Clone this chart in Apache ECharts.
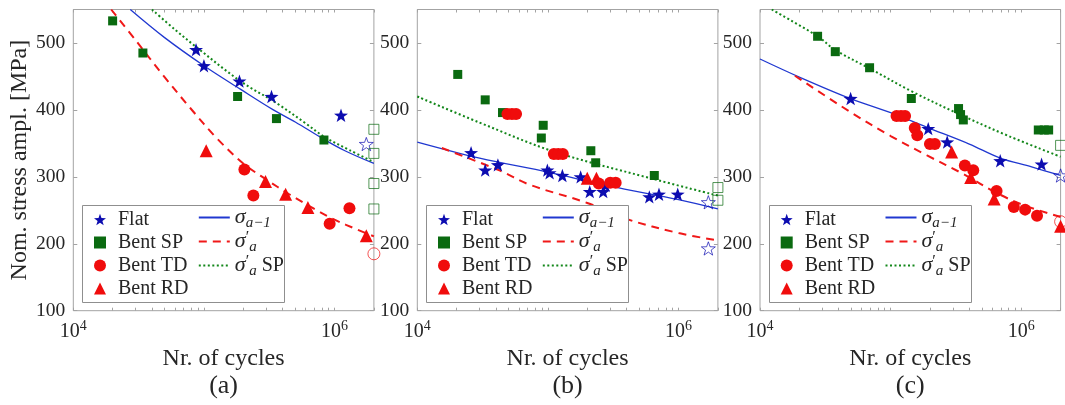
<!DOCTYPE html>
<html>
<head>
<meta charset="utf-8">
<script src="https://cdn.jsdelivr.net/npm/echarts@6/dist/echarts.min.js"></script>
<style>
  html, body { margin: 0; padding: 0; background: #ffffff; }
  #chart { width: 1065px; height: 405px; }
</style>
</head>
<body>
<div id="chart"></div>
<script>
// ---------- axes / tick labels ----------
const yTickValues = [100, 200, 300, 400, 500];
const yRange = [100, 550];
const xRange = [1e4, 2e6];
const xLabelValues = [1e4, 1e6];
const xTickValues = [1e4, 2e4, 3e4, 4e4, 5e4, 6e4, 7e4, 8e4, 9e4,
                     1e5, 2e5, 3e5, 4e5, 5e5, 6e5, 7e5, 8e5, 9e5, 1e6, 2e6];
const panelLabels = ['(a)', '(b)', '(c)'];
const xTitle = 'Nr. of cycles';
const yTitle = 'Nom. stress ampl. [MPa]';
const markerNames = ['Flat', 'Bent SP', 'Bent TD', 'Bent RD'];
const curveNames = ['sigma_a-1', 'sigma_a_prime', 'sigma_a_prime_SP'];

// ---------- panel (a) ----------
const flatA    = [[8.7e4, 490], [1.0e5, 466], [1.87e5, 443], [3.29e5, 420], [1.12e6, 392]];
const flatRunA = [[1.75e6, 349]];
const spA      = [[2.0e4, 533], [3.41e4, 485], [1.81e5, 420], [3.59e5, 387], [8.29e5, 355]];
const spRunA   = [[2e6, 371], [2e6, 335], [2e6, 290], [2e6, 252]];
const tdA      = [[2.04e5, 311], [2.39e5, 272], [9.17e5, 230], [1.30e6, 253]];
const tdRunA   = [[2e6, 185]];
const rdA      = [[1.04e5, 339], [2.96e5, 293], [4.22e5, 274], [6.25e5, 254], [1.75e6, 212]];
const sigA_a   = [[2.73e4, 550], [5e4, 508], [1e5, 466], [1.9e5, 431], [3.4e5, 400], [5e5, 382],
                  [8.3e5, 356], [1.2e6, 339], [2e6, 320]];
const sigP_a   = [[1.95e4, 550], [3e4, 504], [5e4, 449], [8e4, 401], [1.25e5, 358], [2e5, 320],
                  [3e5, 296], [4.5e5, 274], [7e5, 252], [1e6, 236], [1.5e6, 221], [2e6, 211]];
const sigSP_a  = [[4e4, 550], [6e4, 520], [8.6e4, 495], [1.9e5, 443], [3.6e5, 410], [6e5, 380],
                  [8.3e5, 360], [1.3e6, 340], [2e6, 322]];

// ---------- panel (b) ----------
const flatB    = [[2.58e4, 336], [3.31e4, 310], [4.14e4, 318], [9.9e4, 310], [1.03e5, 306], [1.29e5, 302],
                  [1.78e5, 300], [2.09e5, 278], [2.65e5, 278], [2.76e5, 287], [5.97e5, 270], [7.08e5, 274],
                  [9.85e5, 274]];
const flatRunB = [[1.69e6, 262], [1.69e6, 193]];
const spB      = [[2.04e4, 453], [3.31e4, 415], [4.49e4, 396], [9.2e4, 377], [8.9e4, 358], [2.13e5, 339],
                  [2.32e5, 321], [6.52e5, 302]];
const spRunB   = [[2e6, 284], [2e6, 265]];
const tdB      = [[4.9e4, 394], [5.3e4, 394], [5.7e4, 394], [1.11e5, 334], [1.2e5, 334], [1.3e5, 334],
                  [2.45e5, 290], [3.0e5, 291], [3.3e5, 291]];
const tdRunB   = [];
const rdB      = [[2.0e5, 298], [2.35e5, 298]];
const sigA_b   = [[1e4, 352], [3e4, 328], [1e5, 307], [3e5, 286], [1e6, 266], [2e6, 252]];
const sigP_b   = [[1.54e4, 343], [4.2e4, 310], [7.3e4, 288], [2e5, 261], [4e5, 237], [1e6, 216], [2e6, 205]];
const sigSP_b  = [[1e4, 420], [3e4, 381], [1.1e5, 338], [5.8e5, 299], [2e6, 272]];

// ---------- panel (c) ----------
const flatC    = [[4.94e4, 417], [1.94e5, 372], [2.71e5, 352], [6.9e5, 324], [1.43e6, 319]];
const flatRunC = [[2e6, 302]];
const spC      = [[2.76e4, 510], [3.77e4, 487], [6.9e4, 463], [1.44e5, 417], [3.31e5, 402], [3.43e5, 393],
                  [3.6e5, 385], [1.35e6, 370], [1.5e6, 370], [1.62e6, 370]];
const spRunC   = [[2e6, 347]];
const tdC      = [[1.11e5, 391], [1.2e5, 391], [1.29e5, 391], [1.53e5, 373], [1.6e5, 362], [2.0e5, 349],
                  [2.18e5, 349], [3.7e5, 317], [4.29e5, 310], [6.47e5, 279], [8.77e5, 255], [1.07e6, 251],
                  [1.32e6, 242]];
const tdRunC   = [[2e6, 233]];
const rdC      = [[2.93e5, 337], [4.1e5, 299], [6.2e5, 267], [2e6, 226]];
const sigA_c   = [[1e4, 476], [2e4, 449], [4.9e4, 417], [1e5, 396], [1.9e5, 374], [4e5, 349], [6.9e5, 328],
                  [1.2e6, 315], [2e6, 302]];
const sigP_c   = [[1.85e4, 451], [4.9e4, 397], [1e5, 361], [1.9e5, 332], [3.7e5, 303], [6.2e5, 278],
                  [1e6, 259], [2e6, 240]];
const sigSP_c  = [[1.23e4, 550], [2.76e4, 510], [3.8e4, 489], [6.9e4, 462], [1.44e5, 428], [3.4e5, 393],
                  [8e5, 361], [2e6, 330]];

const panels = [
  { flat: flatA, flatRun: flatRunA, sp: spA, spRun: spRunA, td: tdA, tdRun: tdRunA, rd: rdA,
    sigA: sigA_a, sigP: sigP_a, sigSP: sigSP_a },
  { flat: flatB, flatRun: flatRunB, sp: spB, spRun: spRunB, td: tdB, tdRun: tdRunB, rd: rdB,
    sigA: sigA_b, sigP: sigP_b, sigSP: sigSP_b },
  { flat: flatC, flatRun: flatRunC, sp: spC, spRun: spRunC, td: tdC, tdRun: tdRunC, rd: rdC,
    sigA: sigA_c, sigP: sigP_c, sigSP: sigSP_c }
];

// ---------- styling / layout ----------
const FONT = "'Liberation Serif', 'DejaVu Serif', serif";
const TXT = '#262626';
const FRAME = '#a3a3a3';
const BLUE = '#0c0cb0', GREEN = '#0a6a10', RED = '#f00c0c';
const BLUE_LINE = '#2038d0', GREEN_LINE = '#13871a', RED_LINE = '#f01818';
const STAR = 'path://M50,0 L61.76,33.82 L97.55,34.55 L69.02,56.18 L79.39,90.45 L50,70 L20.61,90.45 L30.98,56.18 L2.45,34.55 L38.24,33.82 Z';

const gridLefts = [73.3, 417.3, 760];
const gridTop = 9.5, gridH = 301.2, gridW = 300.6;

const curveLabels = {
  'sigma_a-1': '{s|σ}{sub|a−1}',
  'sigma_a_prime': '{s|σ}{sup|′}{sub|a}',
  'sigma_a_prime_SP': '{s|σ}{sup|′}{sub|a}{t| SP}'
};

const richText = {
  t:   { fontFamily: FONT, fontSize: 20, color: TXT, lineHeight: 23 },
  s:   { fontFamily: FONT, fontSize: 22, fontStyle: 'italic', color: TXT, lineHeight: 23 },
  sub: { fontFamily: FONT, fontSize: 15, fontStyle: 'italic', color: TXT, lineHeight: 23, padding: [11, 0, 0, 0] },
  sup: { fontFamily: FONT, fontSize: 16, color: TXT, lineHeight: 23, padding: [0, 0, 8, 0] }
};

const grid = [], xAxis = [], yAxis = [], series = [], legend = [], graphic = [];

gridLefts.forEach((gl, i) => {
  grid.push({ left: gl, top: gridTop, width: gridW, height: gridH, show: true,
              borderColor: FRAME, borderWidth: 1, backgroundColor: 'transparent', containLabel: false });

  const xBase = { type: 'log', logBase: 10, gridIndex: i, min: xRange[0], max: xRange[1],
                  axisLine: { show: false }, splitLine: { show: false }, minorTick: { show: false },
                  axisTick: { inside: true, length: 3, customValues: xTickValues,
                              lineStyle: { color: FRAME, width: 1 } } };
  xAxis.push(Object.assign({}, xBase, {
    position: 'bottom',
    name: xTitle, nameLocation: 'middle', nameGap: 33,
    nameTextStyle: { fontFamily: FONT, fontSize: 24, color: TXT },
    axisLabel: {
      customValues: xLabelValues, margin: 9,
      formatter: v => '{b|10}{e|' + Math.round(Math.log10(v)) + '}',
      rich: {
        b: { fontFamily: FONT, fontSize: 20, color: TXT },
        e: { fontFamily: FONT, fontSize: 14, color: TXT, padding: [0, 0, 10, 0] }
      }
    }
  }));
  xAxis.push(Object.assign({}, xBase, { position: 'top', axisLabel: { show: false } }));

  const yBase = { type: 'value', gridIndex: i, min: yRange[0], max: yRange[1], interval: 100,
                  axisLine: { show: false }, splitLine: { show: false },
                  axisTick: { inside: true, length: 4, lineStyle: { color: FRAME, width: 1 } } };
  const yLeft = Object.assign({}, yBase, {
    position: 'left',
    axisLabel: { fontFamily: FONT, fontSize: 19.5, color: TXT, margin: 8, customValues: yTickValues }
  });
  if (i === 0) {
    Object.assign(yLeft, { name: yTitle, nameLocation: 'middle', nameGap: 39,
                           nameTextStyle: { fontFamily: FONT, fontSize: 24, color: TXT } });
  }
  yAxis.push(yLeft);
  yAxis.push(Object.assign({}, yBase, { position: 'right', axisLabel: { show: false } }));

  const p = panels[i];
  const xi = 2 * i, yi = 2 * i;
  const line = (name, data, color, width, type) => ({
    type: 'line', name, data, xAxisIndex: xi, yAxisIndex: yi, symbol: 'none', smooth: 0.35,
    lineStyle: { color, width, type, cap: 'butt' }, itemStyle: { color }, z: 2, silent: true
  });
  const dots = (name, data, symbol, size, color, hollow) => ({
    type: 'scatter', name, data, xAxisIndex: xi, yAxisIndex: yi, symbol, symbolSize: size,
    symbolKeepAspect: true, clip: false, z: 3, silent: true,
    itemStyle: hollow ? { color: 'rgba(255,255,255,0)', borderColor: color, borderWidth: 1, opacity: 0.7 }
                      : { color, borderWidth: 0, opacity: 1 }
  });

  series.push(line('sigma_a-1', p.sigA, BLUE_LINE, 1.3, 'solid'));
  series.push(line('sigma_a_prime', p.sigP, RED_LINE, 2, [8, 6]));
  series.push(line('sigma_a_prime_SP', p.sigSP, GREEN_LINE, 2, [2, 2.5]));

  series.push(dots('Flat', p.flat, STAR, 14, BLUE, false));
  series.push(dots('Flat runout', p.flatRun, STAR, 14, BLUE, true));
  series.push(dots('Bent SP', p.sp, 'rect', 9, GREEN, false));
  series.push(dots('Bent SP runout', p.spRun, 'rect', 10, GREEN, true));
  series.push(dots('Bent TD', p.td, 'circle', 12, RED, false));
  series.push(dots('Bent TD runout', p.tdRun, 'circle', 12, RED, true));
  series.push(dots('Bent RD', p.rd, 'triangle', 13, RED, false));

  // legend frame + two legend columns (markers | curves)
  graphic.push({
    type: 'rect', z: 5, silent: true,
    shape: { x: Math.round(gl + 9) + 0.5, y: 205.5, width: 202, height: 97 },
    style: { fill: '#ffffff', stroke: '#8f8f8f', lineWidth: 1 }
  });
  legend.push({
    orient: 'vertical', left: gl + 20.7, top: 209.5, padding: 0, itemGap: 3,
    itemWidth: 12, itemHeight: 12, z: 6, selectedMode: false,
    data: markerNames,
    formatter: n => '{t|' + n + '}',
    itemStyle: { opacity: 1 },
    textStyle: { fontFamily: FONT, color: TXT,
                 rich: { t: Object.assign({}, richText.t, { padding: [0, 0, 0, 7] }) } }
  });
  legend.push({
    orient: 'vertical', left: gl + 124.5, top: 204.5, padding: 0, itemGap: -2,
    itemWidth: 31, itemHeight: 12, z: 6, selectedMode: false,
    data: curveNames,
    formatter: n => curveLabels[n],
    itemStyle: { opacity: 0 },
    textStyle: { fontFamily: FONT, color: TXT, rich: richText }
  });

  graphic.push({
    type: 'text', x: gl + gridW / 2, y: 386, silent: true,
    style: { text: panelLabels[i], font: '26px ' + FONT, fill: TXT,
             textAlign: 'center', verticalAlign: 'middle', textVerticalAlign: 'middle' }
  });
});

const chart = echarts.init(document.getElementById('chart'), null, { renderer: 'canvas' });
chart.setOption({
  animation: false,
  backgroundColor: '#ffffff',
  grid, xAxis, yAxis, series, legend, graphic
});
</script>
</body>
</html>
